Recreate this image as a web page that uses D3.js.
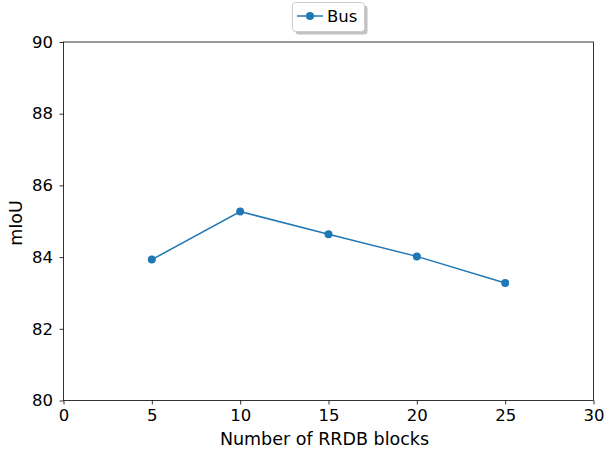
<!DOCTYPE html>
<html><head><meta charset="utf-8">
<script src="https://cdn.jsdelivr.net/npm/d3@7"></script>
<style>body{margin:0;background:#fff}svg{display:block}</style>
</head><body>
<svg id="c" width="614" height="450"></svg>
<script>
const blocks = [5, 10, 15, 20, 25];
const busMiou = [83.93, 85.27, 84.64, 84.02, 83.28];
const xTicks = [0, 5, 10, 15, 20, 25, 30];
const yTicks = [80, 82, 84, 86, 88, 90];
const seriesName = "Bus";

const svg = d3.select("#c");
const m = {l: 63.5, r: 593.5, t: 42, b: 400.5};
const x = d3.scaleLinear().domain([0, 30]).range([m.l, m.r]);
const y = d3.scaleLinear().domain([80, 90]).range([m.b, m.t]);
const font = "DejaVu Sans, sans-serif";
const color = "#1f77b4";

const xa = svg.append("g").attr("transform", `translate(0,${m.b})`)
  .call(d3.axisBottom(x).tickValues(xTicks).tickSize(4).tickPadding(5).tickFormat(d3.format("d")));
const ya = svg.append("g").attr("transform", `translate(${m.l},0)`)
  .call(d3.axisLeft(y).tickValues(yTicks).tickSize(4).tickPadding(6.5).tickFormat(d3.format("d")));
[xa, ya].forEach(a => {
  a.select(".domain").remove();
  a.selectAll("line").attr("stroke", "#000").attr("stroke-width", 0.8);
  a.selectAll("text").attr("font-family", font).attr("font-size", 16.5).attr("fill", "#000");
});
svg.append("rect").attr("x", m.l).attr("y", m.t).attr("width", m.r - m.l).attr("height", m.b - m.t)
  .attr("fill", "none").attr("stroke", "#000").attr("stroke-width", 0.8);

svg.append("text").attr("x", (m.l + m.r) / 2 - 4).attr("y", 444.5).attr("text-anchor", "middle")
  .attr("font-family", font).attr("font-size", 17.5).text("Number of RRDB blocks");
svg.append("text").attr("transform", `translate(22,223) rotate(-90)`).attr("text-anchor", "middle")
  .attr("font-family", font).attr("font-size", 17.5).text("mIoU");

const data = blocks.map((b, i) => ({b, v: busMiou[i]}));
svg.append("path").datum(data).attr("fill", "none").attr("stroke", color).attr("stroke-width", 1.5)
  .attr("d", d3.line().x(d => x(d.b)).y(d => y(d.v)));
svg.selectAll("circle.pt").data(data).join("circle").attr("class", "pt")
  .attr("cx", d => x(d.b)).attr("cy", d => y(d.v)).attr("r", 4).attr("fill", color);

// legend
const lg = svg.append("g");
lg.append("rect").attr("x", 295.5).attr("y", 5.5).attr("width", 72).attr("height", 29).attr("rx", 3)
  .attr("fill", "#999").attr("opacity", 0.6);
lg.append("rect").attr("x", 292.5).attr("y", 2.5).attr("width", 72).attr("height", 29).attr("rx", 3)
  .attr("fill", "#fff").attr("stroke", "#ccc").attr("stroke-width", 1);
lg.append("line").attr("x1", 297).attr("x2", 323).attr("y1", 16).attr("y2", 16)
  .attr("stroke", color).attr("stroke-width", 1.5);
lg.append("circle").attr("cx", 310).attr("cy", 16).attr("r", 4).attr("fill", color);
lg.append("text").attr("x", 327).attr("y", 22).attr("font-family", font).attr("font-size", 16.5).text(seriesName);
</script>
</body></html>
